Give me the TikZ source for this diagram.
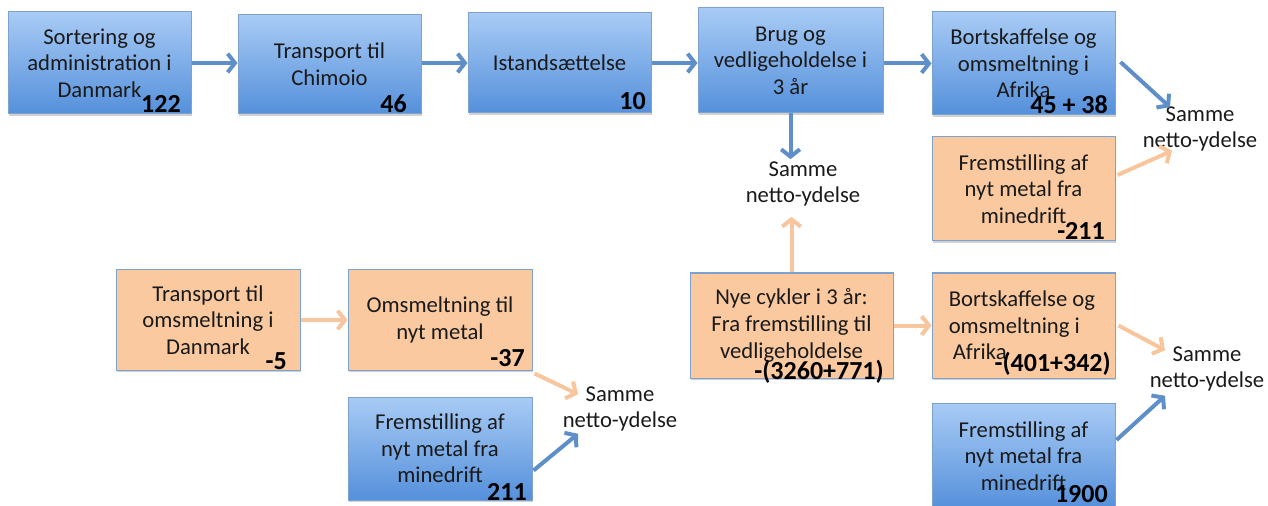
\documentclass[tikz,border=0pt]{standalone}
\usepackage{fontspec}
\setmainfont{Carlito}
\usetikzlibrary{arrows.meta,calc,shadows}
\definecolor{btop}{HTML}{A8CBF5}
\definecolor{bbot}{HTML}{5590DB}
\definecolor{bline}{HTML}{7EA2CF}
\definecolor{ofill}{HTML}{FAC9A0}
\definecolor{barr}{HTML}{5F8FC8}
\definecolor{oarr}{HTML}{F8C59C}
\definecolor{txt}{HTML}{1A1A1A}
\begin{document}
\begin{tikzpicture}[x=0.75pt,y=-0.75pt,
 box/.style={draw=bline, line width=0.75pt, align=center, inner sep=0pt,
   font=\fontsize{17}{20}\selectfont, text=txt,
   drop shadow={shadow xshift=1pt, shadow yshift=-1.5pt, opacity=0.3, fill=black!60}},
 sz/.style 2 args={minimum width=#1*0.75pt, minimum height=#2*0.75pt},
 bluebox/.style={box, top color=btop, bottom color=bbot},
 orbox/.style={box, fill=ofill},
 num/.style={font=\fontsize{19.5}{20}\selectfont\bfseries, text=black, anchor=base east, inner sep=0pt},
 same/.style={font=\fontsize{17}{20}\selectfont, text=txt, align=center, inner sep=0pt},
 barrow/.style={draw=barr, line width=3pt, -{Straight Barb[length=5.5pt,width=14pt]}},
 oarrow/.style={barrow, draw=oarr},
]
\useasboundingbox (0,0) rectangle (1268,506);

% top row
\node[bluebox, sz={183}{102}] (b1) at (99.5,63) {Sortering og\\administration i\\Danmark};
\node[bluebox, sz={183}{99}] (b2) at (329.5,64.5) {Transport til\\Chimoio};
\node[bluebox, sz={183}{100}] (b3) at (559.5,63) {Istandsættelse};
\node[bluebox, sz={185}{105}] (b4) at (790.5,60.5) {Brug og\\vedligeholdelse i\\3 år};
\node[bluebox, sz={183}{103}] (b5) at (1023.5,63.5) {Bortskaffelse og\\omsmeltning i\\Afrika};
\node[orbox, sz={183}{104}] (o1) at (1023.5,189) {Fremstilling af\\nyt metal fra\\minedrift};

% bottom
\node[orbox, sz={184}{100}] (o2) at (208,320) {Transport til\\omsmeltning i\\Danmark};
\node[orbox, sz={184}{100}] (o3) at (440,320) {Omsmeltning til\\nyt metal};
\node[bluebox, sz={184}{103}] (b6) at (440,448.5) {Fremstilling af\\nyt metal fra\\minedrift};
\node[orbox, sz={203}{105}] (o4) at (791.5,325.5) {Nye cykler i 3 år:\\Fra fremstilling til\\vedligeholdelse};
\node[orbox, sz={183}{105}] (o5) at (1023.5,325.5) {};
\node[same, align=left, anchor=west] (t5) at ($(o5.west)+(17,0)$) {Bortskaffelse og\\omsmeltning i\\\hspace*{3pt}Afrika};
\node[bluebox, sz={183}{106}] (b7) at (1023.5,456) {Fremstilling af\\nyt metal fra\\minedrift};

% numbers
\node[num] (n1) at (181,113) {122};
\node[num] (n2) at (407,113) {46};
\node[num] (n3) at (646,110) {10};
\node[num] (n4) at (1108,114) {45 + 38};
\node[num] (n5) at (1105,240) {-211};
\node[num] (n6) at (287,369) {-5};
\node[num] (n7) at (525,366) {-37};
\node[num] (n8) at (527,500) {211};
\node[num] (n9) at (884,379) {-(3260+771)};
\node[num] (n10) at (1111,371) {-(401+342)};
\node[num] (n11) at (1108,502) {1900};

% Samme netto-ydelse
\node[same] (s1) at (1200,129) {Samme\\netto-ydelse};
\node[same] (s2) at (803,184) {Samme\\netto-ydelse};
\node[same] (s3) at (620,409) {Samme\\netto-ydelse};
\node[same] (s4) at (1207,369) {Samme\\netto-ydelse};

% connectors
\draw[barrow] (b1.east) -- (b1.east -| b2.west);
\draw[barrow] (b2.east |- b1.east) -- (b1.east -| b3.west);
\draw[barrow] (b3.east) -- (b3.east -| b4.west);
\draw[barrow] (b5.west -| b4.east) -- (b5.west);
\draw[barrow] ($(b5.east)+(5,-1.5)$) -- ($(s1.north)+(-30,1)$);
\draw[oarrow] ($(o1.east)+(2,-14)$) -- ($(s1.south)+(-28,-1)$);
\draw[barrow] (b4.south) -- ($(b4.south |- s2.north)+(0,-2)$);
\draw[oarrow] (o4.north) -- ($(o4.north |- s2.south)+(0,10)$);
\draw[oarrow] (o2.east) -- (o3.west);
\draw[oarrow] ($(o3.south east)+(2,3)$) -- ($(s3.north)+(-42,8)$);
\draw[barrow] ($(b6.east)+(1,22)$) -- ($(s3.south)+(-42,2)$);
\draw[oarrow] (o4.east) -- (o5.west);
\draw[oarrow] ($(o5.east)+(3,0)$) -- ($(s4.north)+(-42,4)$);
\draw[barrow] ($(b7.east)+(1,-16)$) -- ($(s4.south)+(-42,4)$);
\end{tikzpicture}
\end{document}
